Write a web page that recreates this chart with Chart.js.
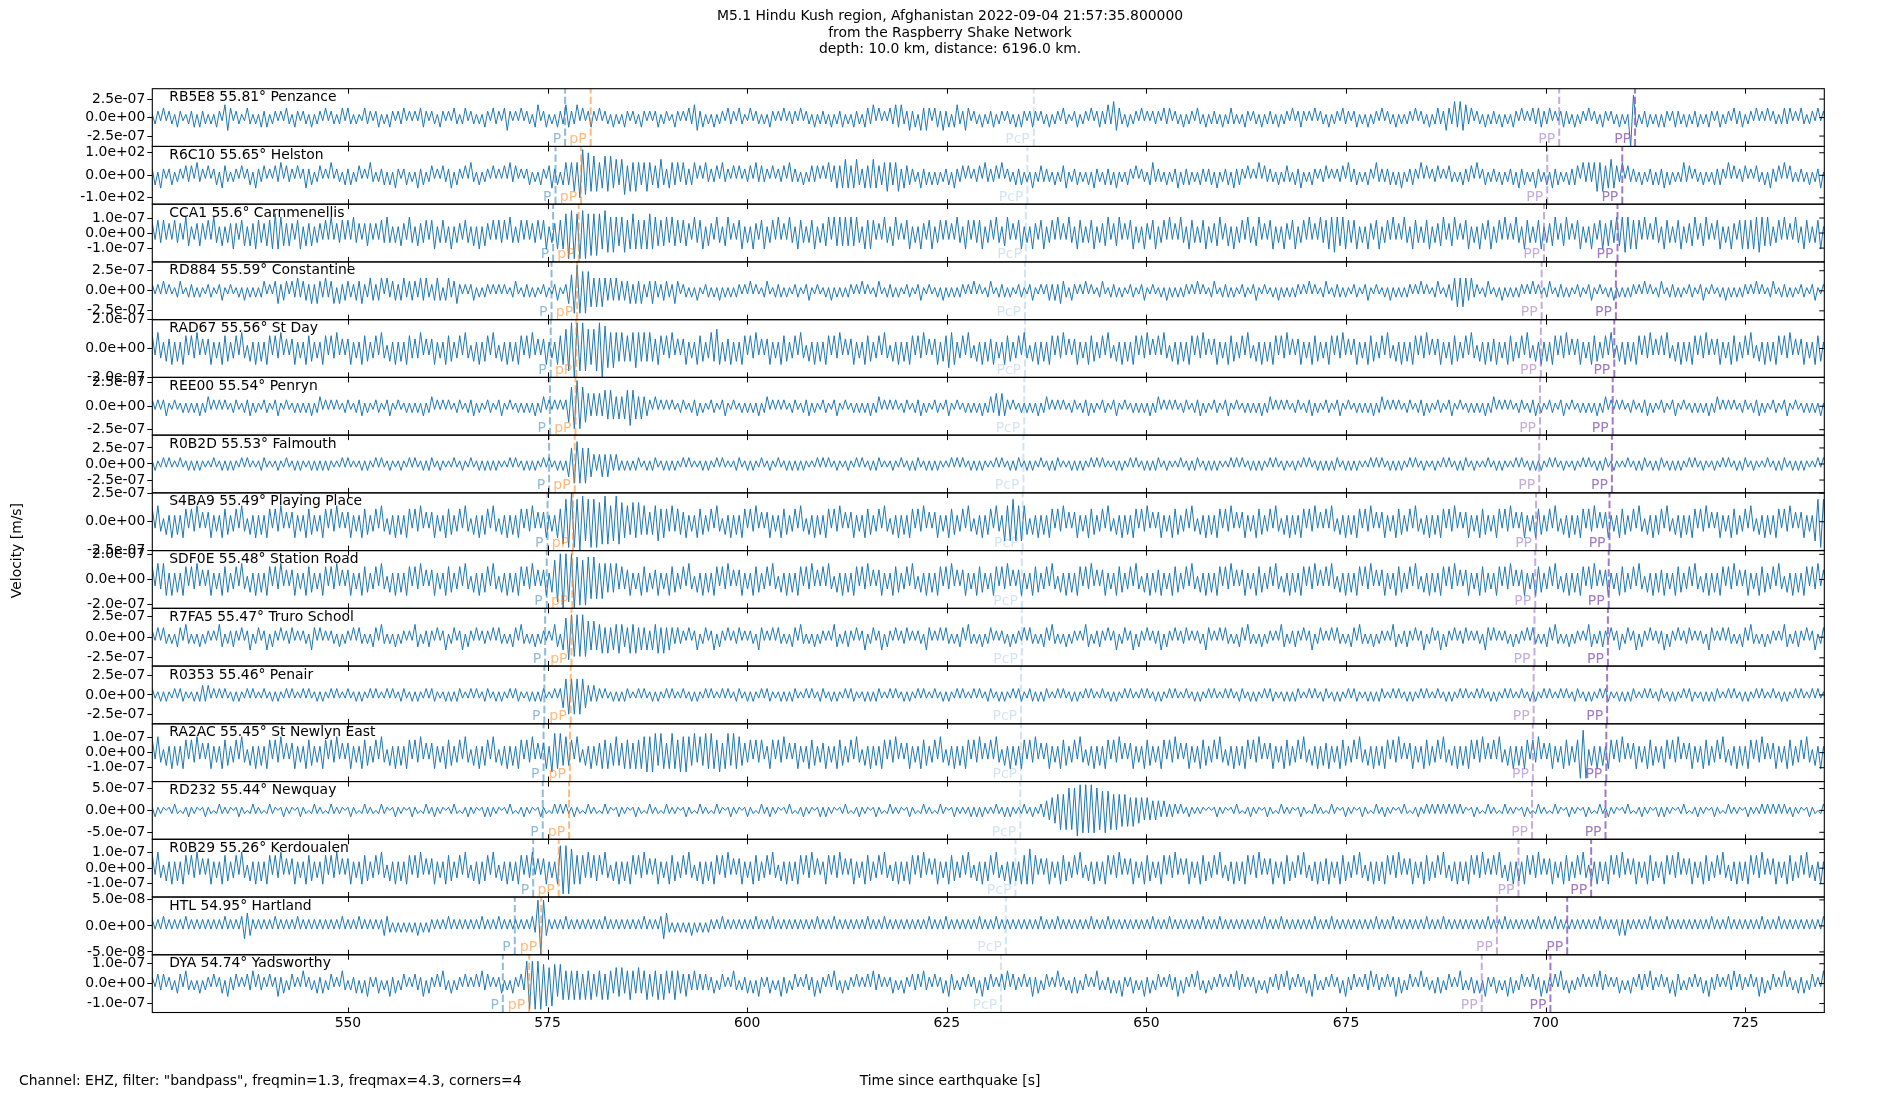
<!DOCTYPE html>
<html><head><meta charset="utf-8">
<script src="https://cdn.jsdelivr.net/npm/chart.js@4.4.0/dist/chart.umd.min.js"></script>
<style>html,body{margin:0;padding:0;background:#fff;}canvas{display:block;}</style>
</head><body>
<canvas id="c" width="1900" height="1100" style="width:1900px;height:1100px"></canvas>
<script>
// ---------------- data ----------------
const titleLines = [
  "M5.1 Hindu Kush region, Afghanistan 2022-09-04 21:57:35.800000",
  "from the Raspberry Shake Network",
  "depth: 10.0 km, distance: 6196.0 km."
];
const footnote = 'Channel: EHZ, filter: "bandpass", freqmin=1.3, freqmax=4.3, corners=4';
const xLabel = "Time since earthquake [s]";
const yLabel = "Velocity [m/s]";

const xMin = 525.5, xMax = 734.9;
const xTicks = [550, 575, 600, 625, 650, 675, 700, 725];
const sampleStart = 525.5, sampleStep = 0.35;   // successive half-cycle peaks

const stations  = ["RB5E8","R6C10","CCA1","RD884","RAD67","REE00","R0B2D","S4BA9","SDF0E","R7FA5","R0353","RA2AC","RD232","R0B29","HTL","DYA"];
const distances = [55.81,55.65,55.6,55.59,55.56,55.54,55.53,55.49,55.48,55.47,55.46,55.45,55.44,55.26,54.95,54.74];
const places    = ["Penzance","Helston","Carnmenellis","Constantine","St Day","Penryn","Falmouth","Playing Place","Station Road","Truro School","Penair","St Newlyn East","Newquay","Kerdoualen","Hartland","Yadsworthy"];

const yTickValues = [2.5e-7,100,1e-7,2.5e-7,2e-7,2.5e-7,2.5e-7,2.5e-7,2e-7,2.5e-7,2.5e-7,1e-7,5e-7,1e-7,5e-8,1e-7];
const yLimits     = [3.9e-7,128,1.92e-7,3.6e-7,2.0e-7,3.08e-7,4.5e-7,2.52e-7,2.3e-7,3.5e-7,3.7e-7,1.92e-7,6.6e-7,1.86e-7,5.55e-8,1.45e-7];

const phaseNames = ["P","pP","PcP","PP","PP"];
const arrivalP   = [577.2,576.0,575.7,575.5,575.4,575.3,575.2,575.0,574.9,574.7,574.6,574.5,574.4,573.2,570.9,569.4];
const arrivalpP  = [580.4,579.2,578.9,578.7,578.6,578.5,578.4,578.2,578.1,578.0,577.9,577.8,577.7,576.4,574.2,572.7];
const arrivalPcP = [635.9,635.1,634.9,634.8,634.8,634.7,634.6,634.5,634.4,634.4,634.3,634.3,634.2,633.6,632.4,631.8];
const arrivalPP1 = [701.7,700.2,699.8,699.5,699.4,699.3,699.2,698.8,698.7,698.6,698.5,698.4,698.3,696.6,693.9,692.0];
const arrivalPP2 = [711.2,709.6,709.0,708.8,708.6,708.4,708.3,708.0,707.9,707.8,707.7,707.6,707.5,705.7,702.7,700.6];

// peak amplitudes (0..9 = ninths of the panel limit), one row = 21 s of half-cycle peaks
const waveRB5E8 = `
1221312213 2112231322 1213214431 2211321213 2312212132 1321221312
2131221231 3212113221 2312132122 3121213321 2213212132 1231221213
2132213421 2131221341 2312132243 2241312321 3122131213 2122132121
2312211321 2132442312 1312213221 3211312212 1321213122 2131221312
2213122312 1322133241 3121324342 2423143431 3324231342 2431221312
2312212213 1321232122 1312213211 2312213123 2242543213 1221312122
2132312213 1221321312 2213123212 1321221312 2213122131 2321213122
1312213221 2312131221 3122131212 2131221312 3224325354 4231221312
2213121321 3121323322 3121232213 1221312213 2122131219 7312231213
1321232213 1223121321 2312213223 1221312131 2212323121 3212213122`;
const waveR6C10 = `
2314212312 2132314221 3123143212 2131231422 3121324132 2131242312
3121412213 2312312142 1223131421 2312142312 3121322413 2131421312
2131213142 3121231213 2134231343 4547867565 4465645356 3545434543
3453244342 4323413142 2231422131 3122314232 2131223142 2213123231
3142343454 3453243454 3345434524 3322142313 1312231422 3131223142
2231412213 2312141232 2213123412 2312131422 1323141213 2131221342
2213122413 2312132223 1412231423 2131214132 2213123213 2412132122
3121223142 2312132142 2223131412 2321413122 3121321213 2231412312
2213122314 2312142213 1423121323 3142424545 3454324132 2213122313
2413121242 3122131213 2321413122 3121321314 2231413212 2213122412`;
const waveCCA1 = `
3243423243 3254223432 4253242335 3244243543 3445655434 3245243423
3242523342 4253323432 3243532324 3253243342 4523432523 3243242524
3242434253 2342423342 4523354568 7868786767 6576565456 4565454565
5444535443 4432534524 3253245232 4523253245 2342523253 2543234523
3452545454 5453254542 3253245232 4523253245 2342423253 2542434523
4253245232 4523253245 2342523253 2543234523 3452345232 4523253245
2342523253 2543234523 3452342523 4253245232 4523253245 2342523253
4556545543 4523253245 2342523253 2543234523 3452345232 4523253245
2342523253 2543234523 3452345232 4523253245 3443545655 4542523253
2543234523 3452345232 4523253245 4545565454 2342523253 2543234523`;
const waveRD884 = `
2121312112 3112221211 2211231121 1213121212 3121342331 3242332424
3242341423 3223342243 2341423323 4233324342 2343134234 2121231212
2121212112 3112221211 2211231124 5787676545 4543434333 3424342234
3223322431 2212131122 1213121212 2121312112 3112221211 2211231121
1213121212 2121312112 3112221211 2211231121 1213121212 2121312112
3112221211 2211231121 2323243213 2121312112 3112221211 2211231121
1213121212 2121312112 3112221211 2211231121 1213121212 2121312112
3112221211 2211231121 1213121212 2121312112 3112234545 4342211231
1213121212 2121312112 3112221211 2211231121 1213121212 2121312112
3112221211 2211231121 1213121212 2121312112 3112221211 2211231121`;
const waveRAD67 = `
4253243524 2542435232 3523254423 4253142524 2542435232 3523254423
2542435232 3523254423 4253142524 2543335232 3523254423 4253142524
4253142524 2542435232 3523254567 8987876567 8976565454 4456545454
3542435232 3523254423 5465243524 2542435232 3523254423 4253142524
2542435232 3523254423 4253142524 2542435232 3524465523 4253142524
3523254423 4253142524 2542435232 3523254423 4253142524 2542435232
4253142524 2542435232 3523254423 4253142524 2542435232 3523254423
2542435232 3523254423 4253142524 2542435232 3523254423 4253142524
3523254423 4253142524 2542435232 3523254423 4253142524 2542435232
4253142524 2542435232 3523254423 4253142524 2542435232 3523254423`;
const waveREE00 = `
2121231121 1212121312 3121212112 2112231211 2211231121 1212121312
3121212112 2112231211 2211231121 1212121312 3121212112 2112231211
2211231121 1212121312 3121212125 6787654343 4354543434 5654343321
3121212112 2112231211 2211231121 1212121312 3121212112 2112231211
2211231121 1212121312 3121212112 2112231211 2211231121 1212121312
3243432121 1212121312 3121212112 2112231211 2211231121 1212121312
3121212112 2112231211 2211231121 1212121312 3121212112 2112231211
2211231121 1212121312 3121212112 2112231211 2211231121 1212121312
3121212112 2112231211 2211231121 1212121312 3121212112 2112231211
2211231121 1212121312 3121212112 2112231211 2211231121 1212121312`;
const waveR0B2D = `
1211212111 2112121211 1121121212 1121211112 2111121121 1212111212
1212111121 2111121211 2121121112 1121211212 2112111121 1211211212
1212111121 2112121211 2121121214 5676565432 3434323212 1212211212
2112121211 2121111212 1121211112 2112121121 1211211212 1212111121
2121121112 1121211212 2111121121 1212211212 1211112121 2112121211
1121211212 2112121121 1212211112 1212112121 2111121211 2121121212
2112111121 1212211212 1211112121 2112121211 2121121112 1121211212
1212211212 1211112121 2112121211 2121121112 1121211212 2112111121
1212111121 2112121211 2121121112 1121211212 2112111121 1212211212
2112121211 2121121112 1121211212 2112111121 1212211212 1211112121`;
const waveS4BA9 = `
4253142524 2542435232 3523254423 4253142524 2542435232 3523254423
2542435232 3523254423 4253142524 2542435232 3523254423 4253142524
4253142524 2542435232 3523254778 9879867878 6787568765 5465645434
5645435344 3523254423 4253142524 2542435232 3523254423 4253142524
2542435232 3523254423 4253142524 2542435232 3523254423 4253142524
4253265676 5654142524 2542435232 3523254423 4253142524 2542435232
3523254423 4253142524 2542435232 3523254423 4253142524 2542435232
4253142524 2542435232 3523254423 4253142524 2542435232 3523254423
2542435232 3523254423 4253142524 2542435232 3523254423 4253142524
4253142524 2542435232 3523254423 4253142524 2542435232 3523267878`;
const waveSDF0E = `
4253552524 2542435232 3523254423 4253142524 2542435232 3523254423
2542435232 3523254423 4253142524 2542435232 3523254423 4253142524
4253142524 2542435232 3524678987 8978687676 5654545343 3523254423
3523254423 4253142524 2542435232 3523254423 4253142524 2542435232
4253142524 2542435232 3523254423 4253142524 2542435232 3523254423
2542435232 3523254423 4253142524 2542435232 3523254423 4253142524
3523254423 4253142524 2542435232 3523254423 4253142524 2542435232
4253142524 2542435232 3523254423 4253142524 2542435232 3523254423
2542435232 3523254423 4253142524 2542435232 3523254423 4253142524
3523254423 4253142524 2542435232 3523254423 4253142524 2542435232`;
const waveR7FA5 = `
2131321213 3142121312 2121431223 2131241231 2413213122 3121221431
3121221312 2131321213 3142121312 2121431223 2131241231 2413213122
2131321213 3142121312 2121431467 7676765454 4535344543 3545343424
4535343232 2131241231 2413213122 3121221431 2131321213 3142121312
2121431223 2131241231 2413213122 3121221431 2131321213 3142121312
3121221312 2131321213 3142121312 2121431223 2131241231 2413213122
2413213122 3121221431 2131321213 3142121312 2121431223 2131241231
2131321213 3142121312 2121431223 2131241231 2413213122 3121221431
3121221312 2131321213 3142121312 2121431223 2131241231 2413213122
2413213122 3121221431 2131321213 3142121312 2121431223 2131241231`;
const waveR0353 = `
2112121121 2211121232 3121212112 1211212111 2112121121 2111212112
1211212111 2112121121 2111212112 2112121121 2211121212 2111212112
2112121121 2211121212 2111212456 5656543232 2121121212 2111212112
1211212111 2112121121 2111212112 2112121121 2211121212 2111212112
2112121121 2211121212 2111212112 1211212111 2112121121 2111212112
2112121121 2211221212 2111212112 1211212111 2112121121 2111212112
1211212111 2112121121 2111212112 2112121121 2211121212 2111212112
2112121121 2211121212 2111212112 1211212111 2112121121 2111212112
1211212111 2112121121 2111212112 2112121121 2211121212 2111212112
2112121121 2211121212 2111212112 1211212111 2112121121 2111212112`;
const waveRA2AC = `
4253142524 2542435232 3523254423 4253142524 2542435232 3523254423
2542435232 3523254423 4253142524 2542435232 3523254423 4253142524
4253142524 2542435232 3526656454 4253142524 3545345435 4535455656
6465356546 5654635465 6546356465 5433424342 2542435232 3523254423
3523254423 4253142524 2542435232 3523254423 4253142524 2542435232
4253142524 2542435232 3523254423 4253142524 2542435232 3523254423
2542435232 3523254423 4253142524 2542435232 3523254423 4253142524
3523254423 4253142524 2542435232 3523254423 4253142524 2542435232
4253142524 2542435232 3523254423 4878142524 2542435232 3523254423
2542435232 3523254423 4253142524 2542435232 3523254423 4253142524`;
const waveRD232 = `
1211101121 0112111012 1101211110 1211012111 0121101211 1012110121
1101211110 1211012111 0121101211 1012110121 1211101121 0112111012
1211101121 0112111012 1101212121 1211012111 0121101211 1012110121
1101211110 1211012111 0121101211 1012110121 1211101121 0112111012
1211101121 0112111012 1101211110 1211012111 0121101211 1112121211
1121121211 1121121122 3344565676 7887878776 6766565555 4544434333
3232222121 1211111010 1211101121 0112111012 1101211110 1211012111
0121101211 1012110121 1211101121 0112112121 2121212121 1012110121
1101211110 1211012111 0121101211 1012110121 1211101121 0112111012
1211101121 0112111012 1101211110 1211112121 2121211211 1012110121`;
const waveR0B29 = `
4253142524 2542435232 3523254423 4253142524 2542435232 3523254423
2542435232 3523254423 4253142524 2542435232 3523254423 4253142524
4253142524 2542435232 3523257878 6545435344 4253142524 2542435232
3523254423 4253142524 2542435232 3523254423 4253142524 2542435232
2542435232 3523254423 4253142524 2542435232 3523254423 4253142524
4253142524 2545654232 3523254423 4253142524 2542435232 3523254423
2542435232 3523254423 4253142524 2542435232 3523254423 4253142524
3523254423 4253142524 2542435232 3523254423 4253142524 2542435232
4253142524 2542435232 3523254423 4253142524 2542435232 3523254423
2542435232 3523254423 4253142524 2542435232 3523254423 4253142524`;
const waveHTL = `
2121312121 2131212121 2121213121 2134432121 2121312121 2131212121
2121212131 2121312121 2123321212 1212131212 2121213121 2121212131
2121312121 2121213289 8321212131 2121212121 2131212121 2121213121
2134421212 1213121212 2121312121 2121213121 2131212121 2121212131
2121312121 2121213121 2131212121 2121212131 2121312121 2121213121
2131212121 2121212131 2121312121 2121213121 2131212121 2121212131
2121312121 2121213121 2131212121 2121212131 2121312121 2121213121
2131212121 2121212131 2121312121 2121213121 2131212121 2121212131
2121312121 2121213121 2131212121 2121212131 2121232321 2121213121
2131212121 2121212131 2121312121 2121213121 2131212121 2121212131`;
const waveDYA = `
2132312213 3142121312 2131231422 3121324132 2131242312 3121412213
2312312142 1223131421 2312142312 3121322413 2131421312 2131213142
3121231213 2132787878 6757646545 4545354534 4535435453 4543534534
4535434543 3432423232 2312312142 1223131421 2312142312 3121322413
2131421312 2131213142 3121231213 2132314221 3123143212 2131231422
3121324132 2131242312 3121412213 2312312142 1223131421 2312142312
3121322413 2131421312 2131213142 3121231213 2132314221 3123143212
2131231422 3121324132 2131242312 3121412213 2312312142 1223131421
2312142312 3121322413 2131421312 2131213142 3121231213 2132314221
3123143212 2131231422 3121324132 2131242312 3121412213 2312312142`;
const waves = [waveRB5E8,waveR6C10,waveCCA1,waveRD884,waveRAD67,waveREE00,waveR0B2D,waveS4BA9,waveSDF0E,waveR7FA5,waveR0353,waveRA2AC,waveRD232,waveR0B29,waveHTL,waveDYA];

// ---------------- styles ----------------
const FONT = "'DejaVu Sans', sans-serif";
const TRACE_COLOR = "#1f77b4";
const phaseColors = ["rgba(31,119,180,0.5)","rgba(255,127,14,0.55)","rgba(31,119,180,0.2)","rgba(148,103,189,0.55)","rgba(148,103,189,0.88)"];
const nPanels = stations.length;

Chart.defaults.font.family = FONT;
Chart.defaults.color = "#000";

function decodeWave(str, lim) {
  const digits = str.replace(/\s+/g, "");
  const pts = [];
  for (let i = 0; i < digits.length; i++) {
    const sign = i % 2 === 0 ? 1 : -1;
    pts.push({x: sampleStart + i * sampleStep, y: sign * (+digits[i]) / 9 * lim});
  }
  return pts;
}
function fmtExp(v) {
  const s = Number(v).toExponential(1);
  const parts = s.split("e");
  const n = parseInt(parts[1], 10);
  return parts[0] + "e" + (n < 0 ? "-" : "+") + String(Math.abs(n)).padStart(2, "0");
}
function arrivalsFor(k) {
  return [arrivalP[k], arrivalpP[k], arrivalPcP[k], arrivalPP1[k], arrivalPP2[k]];
}

const datasets = [];
for (let k = 0; k < nPanels; k++) {
  const lim = yLimits[k];
  arrivalsFor(k).forEach((t, p) => {
    datasets.push({
      data: [{x: t, y: -lim}, {x: t, y: lim}],
      yAxisID: "p" + k, borderColor: phaseColors[p], borderWidth: 2,
      borderDash: [7.4, 3.2], pointRadius: 0, order: 0, tension: 0
    });
  });
  datasets.push({
    data: decodeWave(waves[k], lim), yAxisID: "p" + k,
    borderColor: TRACE_COLOR, borderWidth: 1, pointRadius: 0, order: 1, tension: 0
  });
}

const scales = {
  x: {
    type: "linear", position: "bottom", min: xMin, max: xMax,
    afterBuildTicks: s => { s.ticks = xTicks.map(v => ({value: v})); },
    afterFit: s => { s.height = 30; },
    ticks: {autoSkip: false, maxRotation: 0, font: {size: 13.9}, color: "#000", padding: 3, callback: v => String(v)},
    grid: {display: false, drawTicks: false}, border: {display: false}
  }
};
for (let k = nPanels - 1; k >= 0; k--) {
  const T = yTickValues[k], lim = yLimits[k];
  scales["p" + k] = {
    type: "linear", position: "left", stack: "traces", stackWeight: 1, offset: false,
    min: -lim, max: lim,
    afterBuildTicks: s => { s.ticks = [-T, 0, T].map(v => ({value: v})); },
    afterFit: s => { s.width = 152.3; },
    ticks: {autoSkip: false, font: {size: 13.9}, color: "#000", padding: 2, callback: v => fmtExp(v)},
    grid: {drawOnChartArea: false, drawTicks: true, tickLength: 5, color: "#000", lineWidth: 1},
    border: {display: false}
  };
}

const decor = {
  id: "decor",
  afterDatasetsDraw(chart) {
    const ctx = chart.ctx, xs = chart.scales.x, a = chart.chartArea;
    ctx.save();
    for (let k = 0; k < nPanels; k++) {
      const ys = chart.scales["p" + k];
      const T = yTickValues[k];
      ctx.strokeStyle = "#000"; ctx.lineWidth = 1.1;
      ctx.strokeRect(a.left, ys.top, a.right - a.left, ys.bottom - ys.top);
      ctx.lineWidth = 1; ctx.beginPath();
      xTicks.forEach(v => {
        const px = Math.round(xs.getPixelForValue(v)) + 0.5;
        ctx.moveTo(px, ys.top); ctx.lineTo(px, ys.top + 5);
        ctx.moveTo(px, ys.bottom); ctx.lineTo(px, ys.bottom - 5);
      });
      [-T, 0, T].forEach(v => {
        const py = ys.getPixelForValue(v);
        ctx.moveTo(a.right, py); ctx.lineTo(a.right - 5, py);
      });
      ctx.stroke();
      ctx.fillStyle = "#000"; ctx.font = "13.9px " + FONT;
      ctx.textAlign = "left"; ctx.textBaseline = "alphabetic";
      ctx.fillText(stations[k] + " " + distances[k] + "\u00b0 " + places[k], a.left + 17, ys.top + 12.5);
      ctx.font = "14px " + FONT; ctx.textAlign = "right";
      arrivalsFor(k).forEach((t, p) => {
        ctx.fillStyle = phaseColors[p];
        ctx.fillText(phaseNames[p], xs.getPixelForValue(t) - 4, ys.bottom - 3.5);
      });
    }
    ctx.restore();
  },
  afterDraw(chart) {
    const ctx = chart.ctx, a = chart.chartArea;
    ctx.save();
    ctx.fillStyle = "#000"; ctx.font = "13.9px " + FONT;
    ctx.textAlign = "center"; ctx.textBaseline = "middle";
    const ty = [16.7, 33.3, 49.3];
    titleLines.forEach((l, i) => ctx.fillText(l, 950, ty[i]));
    ctx.fillText(xLabel, 950, 1081.7);
    ctx.textAlign = "left";
    ctx.fillText(footnote, 19, 1081.7);
    ctx.translate(17.5, (a.top + a.bottom) / 2);
    ctx.rotate(-Math.PI / 2);
    ctx.textAlign = "center";
    ctx.fillText(yLabel, 0, 0);
    ctx.restore();
  }
};

new Chart(document.getElementById("c"), {
  type: "line",
  data: {datasets},
  options: {
    responsive: false, animation: false, devicePixelRatio: 1, events: [],
    layout: {padding: {left: 0, right: 75.7, top: 88.7, bottom: 57.5}},
    plugins: {legend: {display: false}, tooltip: {enabled: false}, title: {display: false}},
    scales
  },
  plugins: [decor]
});
</script>
</body></html>
